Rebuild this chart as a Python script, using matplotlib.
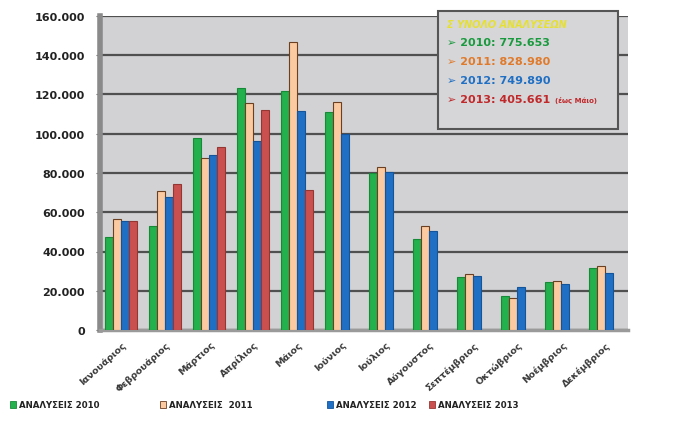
import matplotlib
matplotlib.use("Agg")
import matplotlib.pyplot as plt
import numpy as np
from matplotlib.patches import Rectangle
from matplotlib.ticker import FuncFormatter

months = ["Ιανουάριος", "Φεβρουάριος", "Μάρτιος", "Απρίλιος", "Μάιος", "Ιούνιος",
          "Ιούλιος", "Αύγουστος", "Σεπτέμβριος", "Οκτώβριος", "Νοέμβριος", "Δεκέμβριος"]
v2010 = [47400, 53000, 97800, 123300, 121800, 111000, 80000, 46400, 27000, 17300, 24500, 31600]
v2011 = [56500, 70800, 87600, 115600, 147000, 116100, 83000, 53000, 28500, 16300, 25000, 32600]
v2012 = [55500, 67800, 89200, 96300, 111600, 99900, 80500, 50400, 27500, 21900, 23400, 29000]
v2013 = [55500, 74400, 93200, 112100, 71300]
series_labels = ["ΑΝΑΛΥΣΕΙΣ 2010", "ΑΝΑΛΥΣΕΙΣ  2011", "ΑΝΑΛΥΣΕΙΣ 2012", "ΑΝΑΛΥΣΕΙΣ 2013"]
totals = ["2010: 775.653", "2011: 828.980", "2012: 749.890", "2013: 405.661"]
yticks = [0, 20000, 40000, 60000, 80000, 100000, 120000, 140000, 160000]

colors = ["#22b14c", "#fccaa0", "#1f6fc4", "#c9504e"]
edges = ["#178a38", "#6b3f22", "#14549a", "#963633"]

fig = plt.figure(figsize=(6.76, 4.27), dpi=100)
ax = fig.add_axes([100/676, 1-331/427, 528/676, (331-17)/427])
ax.set_facecolor("#d2d2d4")

x = np.arange(len(months))
w = 0.185
series = [v2010, v2011, v2012, v2013]
for i, vals in enumerate(series):
    xi = x[:len(vals)] + (i - 1.6) * w
    ax.bar(xi, vals, width=w, color=colors[i], edgecolor=edges[i], linewidth=0.8, zorder=3)

ax.set_xlim(-0.5, 11.5)
ax.set_ylim(0, 160000)
ax.set_yticks(yticks)
ax.yaxis.set_major_formatter(FuncFormatter(lambda v, p: f"{int(v):,}".replace(",", ".")))
ax.grid(axis="y", color="#505050", linewidth=1.6, zorder=1)
ax.set_xticks(x)
ax.set_xticklabels(months, rotation=42, ha="right", rotation_mode="anchor", fontsize=6.8,
                   fontweight="bold", color="#3a3a3a")
ax.tick_params(axis="x", length=0, pad=7)
ax.tick_params(axis="y", length=3, color="#666666", labelsize=8, labelcolor="#222222", pad=8)
for lab in ax.get_yticklabels():
    lab.set_fontweight("bold")
for s in ["top", "right"]:
    ax.spines[s].set_visible(False)
ax.spines["left"].set_color("#8a8a8a")
ax.spines["left"].set_linewidth(4)
ax.spines["bottom"].set_color("#9a9a9a")
ax.spines["bottom"].set_linewidth(2.5)

# info box
bx0, by0, bx1, by1 = 438, 12, 618, 130
fig.patches.append(Rectangle((bx0/676, 1-by1/427), (bx1-bx0)/676, (by1-by0)/427,
                             transform=fig.transFigure, facecolor="#d6d6d8",
                             edgecolor="#555555", linewidth=1.5, zorder=5))
fig.text(447/676, 1-25/427, "Σ ΥΝΟΛΟ ΑΝΑΛΥΣΕΩΝ", color="#e6e030", fontsize=7,
         fontstyle="italic", fontweight="bold", va="center", ha="left", zorder=6)
tcol = ["#1a9a3e", "#e07a2a", "#1f6fc4", "#c0282a"]
for k, t in enumerate(totals):
    yy = 1 - (43 + k * 19) / 427
    fig.text(447/676, yy, "➢ " + t, color=tcol[k], fontsize=8, fontweight="bold",
             va="center", ha="left", zorder=6)
fig.text(555/676, 1-100/427, "(έως Μάιο)", color="#c0282a", fontsize=5,
         fontweight="bold", va="center", ha="left", zorder=6)

# bottom legend
leg_x = [10, 160, 327, 429]
for k, lab in enumerate(series_labels):
    fig.patches.append(Rectangle((leg_x[k]/676, 1-409/427), 6/676, 7/427,
                                 transform=fig.transFigure, facecolor=colors[k],
                                 edgecolor=edges[k], linewidth=0.6))
    fig.text((leg_x[k] + 9)/676, 1-405.5/427, lab, fontsize=6.2, fontweight="bold",
             color="#222222", va="center", ha="left")

fig.savefig("out.png", dpi=100)
